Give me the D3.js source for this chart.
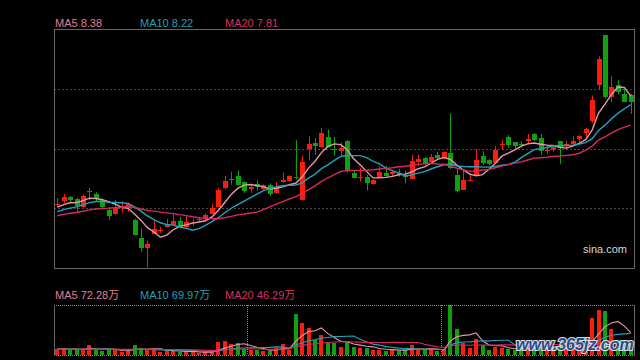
<!DOCTYPE html>
<html><head><meta charset="utf-8">
<script src="https://cdn.jsdelivr.net/npm/d3@7"></script>
<style>html,body{margin:0;padding:0;background:#000;overflow:hidden}</style>
</head><body>
<svg id="c" width="640" height="360"></svg>
<script>
// ---- data (prices in yuan, volumes in 万 shares) ----
const opens = [6.24,6.30,6.38,6.35,6.19,6.49,6.45,6.33,6.13,6.06,
 6.17,6.17,5.94,5.59,5.39,5.67,5.71,5.80,5.85,5.92,
 5.80,5.89,5.95,5.96,6.06,6.19,6.56,6.74,6.80,6.68,
 6.55,6.64,6.54,6.63,6.47,6.68,6.70,6.78,6.32,7.34,
 7.46,7.38,7.57,7.34,7.30,7.49,6.87,6.76,6.79,6.65,
 6.78,6.87,6.84,6.86,6.80,6.75,7.09,7.16,7.09,7.22,
 7.17,7.26,6.82,6.53,6.72,6.83,7.20,7.11,7.06,7.41,
 7.57,7.47,7.43,7.50,7.63,7.55,7.29,7.31,7.49,7.41,
 7.43,7.53,7.64,7.89,8.60,9.59,8.35,8.59,8.42,8.39];
const closes = [6.26,6.38,6.33,6.21,6.41,6.50,6.35,6.20,6.02,6.17,
 6.19,6.25,5.64,5.39,5.46,5.76,5.73,5.85,5.92,5.80,
 5.90,5.90,5.96,6.04,6.18,6.53,6.70,6.75,6.63,6.51,
 6.59,6.59,6.62,6.45,6.56,6.72,6.80,6.77,7.07,7.43,
 7.40,7.65,7.38,7.32,7.36,6.89,6.77,6.78,6.67,6.72,
 6.89,6.82,6.88,6.83,6.78,7.10,7.14,7.07,7.18,7.16,
 7.28,6.96,6.51,6.72,6.73,7.12,7.07,7.04,7.31,7.43,
 7.42,7.39,7.41,7.53,7.52,7.29,7.31,7.37,7.36,7.43,
 7.49,7.59,7.72,8.31,9.11,8.36,8.55,8.46,8.26,8.26];
const highs = [6.37,6.45,6.41,6.38,6.43,6.57,6.48,6.36,6.19,6.33,
 6.30,6.28,5.96,5.77,5.53,5.94,5.80,5.96,6.05,6.00,
 6.03,5.96,6.00,6.07,6.25,6.57,6.80,6.89,6.91,6.70,
 6.65,6.72,6.64,6.66,6.68,6.87,6.82,7.51,7.20,7.58,
 7.55,7.75,7.72,7.57,7.46,7.51,6.92,6.96,6.82,6.74,
 6.99,7.00,6.92,6.94,6.91,7.22,7.22,7.18,7.24,7.28,
 7.29,8.04,6.96,6.92,6.86,7.33,7.29,7.14,7.39,7.52,
 7.61,7.47,7.49,7.63,7.65,7.63,7.41,7.41,7.49,7.49,
 7.59,7.61,7.76,8.39,9.16,9.59,8.77,8.69,8.52,8.42];
const lows = [6.19,6.27,6.29,6.07,6.18,6.33,6.31,6.15,5.94,6.04,
 6.08,6.10,5.63,5.31,5.00,5.67,5.69,5.79,5.85,5.77,
 5.77,5.82,5.90,5.94,6.06,6.19,6.54,6.63,6.61,6.47,
 6.47,6.51,6.53,6.41,6.45,6.67,6.69,6.74,6.32,7.11,
 7.22,7.38,7.36,7.20,7.18,6.87,6.77,6.69,6.52,6.63,
 6.76,6.79,6.79,6.79,6.66,6.74,7.00,7.02,7.07,7.14,
 7.15,6.94,6.48,6.53,6.72,6.82,7.02,7.01,7.06,7.32,
 7.36,7.34,7.37,7.45,7.49,7.22,7.24,7.28,7.04,7.34,
 7.41,7.45,7.55,7.85,8.50,8.33,8.26,8.41,8.26,8.03];
const volumes = [18.5,23.7,16.2,16.2,19.4,32.4,16.2,13.0,16.2,16.2,
 10.7,13.0,32.4,21.7,16.2,18.5,9.7,13.0,13.0,10.7,
 10.7,10.7,5.5,8.7,8.7,43.1,45.4,35.6,37.9,19.4,
 16.2,16.2,13.0,13.0,22.7,35.6,17.8,132.8,103.7,89.1,
 50.2,63.2,40.5,39.9,26.9,43.1,26.6,23.7,22.7,16.2,
 17.2,13.9,17.2,13.9,17.2,32.4,17.2,17.2,17.2,13.9,
 18.5,162.0,84.2,39.9,21.7,51.8,32.4,16.2,26.9,23.7,
 19.4,16.2,20.0,24.0,22.0,30.0,22.0,20.0,28.0,24.5,
 22.0,24.0,26.3,120.0,146.0,143.0,84.5,50.0,44.0,39.9];
// sessions before the visible window (only feed the moving averages)
const priorCloses = [5.85,5.90,5.88,5.95,5.92,6.00,5.96,5.93,6.02,5.99,
 5.97,6.03,5.98,6.02,6.05,6.13,6.15,6.20,6.21];
const priorVolumes = [17,19,16,20,18,15,21,17,19,18,16,20,17,19,18,22,16,18,20];
const priceRange = [4.99, 9.70];
const maPeriods = [5, 10, 20];
const priceLegend = ["MA5 8.38", "MA10 8.22", "MA20 7.81"];
const volumeLegend = ["MA5 72.28万", "MA10 69.97万", "MA20 46.29万"];
const sessionsPerBlock = 30;

// ---- style ----
const UP = "#f81e0c", DOWN = "#0ea00e";
const maColors = ["#e898ab", "#1fa3bf", "#d8295f"];
const legendColors = ["#e27f99", "#1fa0ba", "#dc2d63"];
const FONT = "'Liberation Sans', Arial, 'Noto Sans CJK SC', sans-serif";

const svg = d3.select("#c");
svg.append("rect").attr("width", 640).attr("height", 360).attr("fill", "#000");

const n = closes.length;
const L = 54, R = 634, T = 29, B = 268;
const VT = 305, VB = 355;

const x = d3.scaleBand().domain(d3.range(n)).range([L, R]).paddingInner(0.3).paddingOuter(0.15);
const cx = i => x(i) + x.bandwidth() / 2;
const y = d3.scaleLinear().domain(priceRange).range([B, T]);
const yv = d3.scaleLinear().domain([0, d3.max(volumes)]).range([VB, VT]);

function movingAverage(prior, arr, k) {
  const all = prior.concat(arr), off = prior.length;
  return d3.range(n).map(i => d3.mean(all.slice(off + i - k + 1, off + i + 1)));
}
const priceMA = maPeriods.map(k => movingAverage(priorCloses, closes, k));
const volMA = maPeriods.map(k => movingAverage(priorVolumes, volumes, k));

// ---- main panel grid ----
const gridVals = [0.25, 0.5, 0.75].map(f => priceRange[0] + f * (priceRange[1] - priceRange[0]));
svg.append("g").selectAll("line").data(gridVals).join("line")
  .attr("x1", L).attr("x2", R)
  .attr("y1", d => Math.round(y(d)) + 0.5).attr("y2", d => Math.round(y(d)) + 0.5)
  .attr("stroke", "#4a4a4a").attr("stroke-dasharray", "2,2");

// candles
const cg = svg.append("g");
const idx = d3.range(n);
const isUp = i => closes[i] >= opens[i];
cg.selectAll("line").data(idx).join("line")
  .attr("x1", i => Math.round(cx(i)) + 0.5).attr("x2", i => Math.round(cx(i)) + 0.5)
  .attr("y1", i => y(highs[i])).attr("y2", i => y(lows[i]))
  .attr("stroke", i => isUp(i) ? UP : DOWN).attr("stroke-width", 1);
cg.selectAll("rect").data(idx).join("rect")
  .attr("x", i => Math.round(cx(i)) - 2)
  .attr("width", 5)
  .attr("y", i => Math.round(y(Math.max(opens[i], closes[i]))))
  .attr("height", i => Math.max(1, Math.round(Math.abs(y(opens[i]) - y(closes[i])))))
  .attr("fill", i => isUp(i) ? UP : DOWN)
  .attr("shape-rendering", "crispEdges");

// MA lines
const line = d3.line().x((d, i) => cx(i)).y(d => y(d));
svg.append("g").selectAll("path").data(priceMA).join("path")
  .attr("d", line).attr("fill", "none")
  .attr("stroke", (d, k) => maColors[k]).attr("stroke-width", 1.4);

// main border
svg.append("rect").attr("x", L + 0.5).attr("y", T + 0.5).attr("width", R - L).attr("height", B - T)
  .attr("fill", "none").attr("stroke", "#686868");

// legend
const legX = [55, 140, 225];
svg.append("g").selectAll("text").data(priceLegend).join("text")
  .attr("x", (d, k) => legX[k]).attr("y", 27)
  .attr("fill", (d, k) => legendColors[k])
  .attr("font-family", FONT).attr("font-size", 11).text(d => d);

svg.append("text").attr("x", 583).attr("y", 253).attr("fill", "#d8d8d8")
  .attr("font-family", FONT).attr("font-size", 11).text("sina.com");

// ---- volume panel ----
const vg = svg.append("g");
vg.selectAll("rect").data(idx).join("rect")
  .attr("x", i => Math.round(cx(i)) - 2)
  .attr("width", 4)
  .attr("y", i => Math.round(yv(volumes[i])))
  .attr("height", i => VB - Math.round(yv(volumes[i])))
  .attr("fill", i => isUp(i) ? UP : DOWN)
  .attr("shape-rendering", "crispEdges");

// block separators
const seps = d3.range(sessionsPerBlock, n, sessionsPerBlock);
svg.append("g").selectAll("line").data(seps).join("line")
  .attr("x1", i => Math.round(x(i) - x.step() * x.paddingInner() / 2) + 0.5)
  .attr("x2", i => Math.round(x(i) - x.step() * x.paddingInner() / 2) + 0.5)
  .attr("y1", VT).attr("y2", VB)
  .attr("stroke", "#8a8a8a").attr("stroke-dasharray", "1,1");

const vline = d3.line().x((d, i) => cx(i)).y(d => yv(d));
svg.append("g").selectAll("path").data(volMA).join("path")
  .attr("d", vline).attr("fill", "none")
  .attr("stroke", (d, k) => maColors[k]).attr("stroke-width", 1.1);

// volume borders
[VT, VB].forEach(yy => {
  svg.append("line").attr("x1", L).attr("x2", R + 1).attr("y1", yy + 0.5).attr("y2", yy + 0.5)
    .attr("stroke", "#8a8a8a").attr("stroke-dasharray", "1,1");
});
[L, R].forEach(xx => {
  svg.append("line").attr("x1", xx + 0.5).attr("x2", xx + 0.5).attr("y1", VT).attr("y2", VB + 1)
    .attr("stroke", "#686868");
});

svg.append("g").selectAll("text").data(volumeLegend).join("text")
  .attr("x", (d, k) => legX[k]).attr("y", 299)
  .attr("fill", (d, k) => legendColors[k])
  .attr("font-family", FONT).attr("font-size", 11).text(d => d);

// watermark
svg.append("text").attr("x", 516).attr("y", 350)
  .attr("font-family", FONT).attr("font-size", 16).attr("font-weight", "bold")
  .attr("font-style", "italic")
  .attr("fill", "#2a4f8c").attr("stroke", "#e8eef8").attr("stroke-width", 2.2)
  .attr("paint-order", "stroke").attr("opacity", 0.92)
  .text("www.365jz.com");
</script>
</body></html>
